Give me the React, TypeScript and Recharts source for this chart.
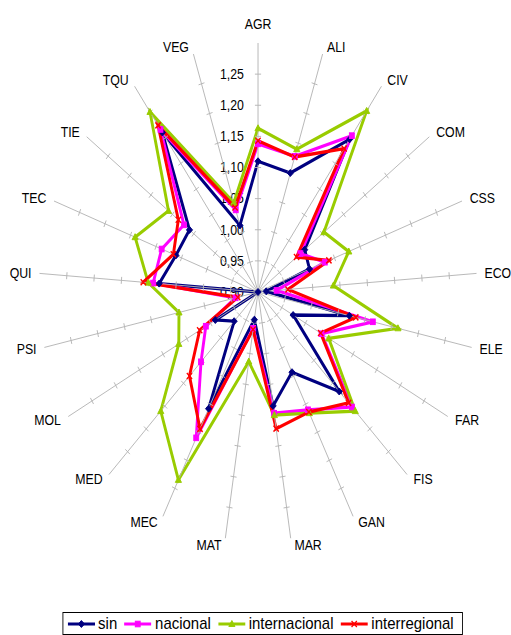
import React from 'react';
import { RadarChart, Radar, PolarAngleAxis, PolarRadiusAxis, Legend } from 'recharts';

const categories = ['AGR', 'ALI', 'CIV', 'COM', 'CSS', 'ECO', 'ELE', 'FAR', 'FIS', 'GAN', 'MAR', 'MAT', 'MEC', 'MED', 'MOL', 'PSI', 'QUI', 'TEC', 'TIE', 'TQU', 'VEG'];
const sin = [1.110, 1.100, 1.197, 1.009, 1.001, 0.915, 1.071, 0.974, 1.118, 1.043, 1.085, 0.945, 1.108, 0.964, 0.990, 0.900, 1.081, 1.061, 1.060, 1.210, 1.012];
const nacional = [1.138, 1.128, 1.204, 0.999, 1.031, 0.934, 1.115, 1.034, 1.152, 1.110, 1.097, 0.959, 1.160, 1.053, 1.010, 0.942, 1.092, 1.089, 1.073, 1.216, 1.038];
const internacional = [1.163, 1.140, 1.252, 1.054, 1.078, 1.038, 1.162, 1.049, 1.161, 1.116, 1.100, 1.013, 1.235, 1.161, 1.067, 1.048, 1.101, 1.141, 1.109, 1.250, 1.050];
const interregional = [1.143, 1.127, 1.179, 0.990, 1.039, 0.955, 1.083, 1.032, 1.143, 1.114, 1.122, 0.961, 1.144, 1.084, 1.023, 0.938, 1.110, 1.066, 1.086, 1.224, 1.042];
const seriesNames = ['sin', 'nacional', 'internacional', 'interregional'];
const seriesColors = ['#000080', '#ff00ff', '#99cc00', '#ff0000'];
const radiusDomain = [0.9, 1.3];
const radiusTickLabels = ['0,90', '0,95', '1,00', '1,05', '1,10', '1,15', '1,20', '1,25'];
const radiusTickValues = [0.9, 0.95, 1.0, 1.05, 1.1, 1.15, 1.2, 1.25];

const seriesValues = [sin, nacional, internacional, interregional];
const data = categories.map((cat, i) => {
  const row: any = { cat };
  seriesNames.forEach((n, k) => { row[n] = seriesValues[k][i]; });
  return row;
});

const FONT = '"Liberation Sans", Arial, sans-serif';
const SX = 0.88;
const W = 581;
const H = 635;
const CX = 293.2;
const CY = 292;
const R = 249;
const GRID = '#b4b4b4';

const toR = (v: number) => ((v - radiusDomain[0]) / (radiusDomain[1] - radiusDomain[0])) * R;

const AngleTick = (props: any) => {
  const { payload } = props;
  const a = (payload.coordinate * Math.PI) / 180;
  const s = Math.cos(a);
  const c = Math.sin(a);
  const ex = CX + R * s;
  const ey = CY - R * c;
  const marks = radiusTickValues.slice(1).map((t, k) => {
    const r = toR(t);
    const px = CX + r * s;
    const py = CY - r * c;
    return (
      <line key={k} x1={px - 3.5 * c} y1={py - 3.5 * s} x2={px + 3.5 * c} y2={py + 3.5 * s} stroke={GRID} strokeWidth={1} />
    );
  });
  let anchor = 'middle';
  let lx = ex;
  let ly = ey - 19;
  if (Math.abs(s) > 0.05) {
    anchor = s > 0 ? 'start' : 'end';
    const gap = (3 + 5 * Math.abs(s)) / SX;
    lx = ex + (s > 0 ? gap : -gap);
    ly = ey - 7 * c;
  }
  return (
    <g>
      <line x1={CX} y1={CY} x2={ex} y2={ey} stroke={GRID} strokeWidth={1} />
      {marks}
      <text x={lx} y={ly} textAnchor={anchor} dominantBaseline="central" fontSize={14} fontFamily={FONT} fill="#000">
        {payload.value}
      </text>
    </g>
  );
};

const RadiusLabels = () => (
  <g>
    {radiusTickValues.map((v, i) => (
      <text key={i} x={CX - 16} y={CY - toR(v)} textAnchor="end" dominantBaseline="central" fontSize={14} fontFamily={FONT} fill="#000">
        {radiusTickLabels[i]}
      </text>
    ))}
  </g>
);

const markerShape = (idx: number, x: number, y: number, color: string, key?: any) => {
  if (idx === 0) {
    return <path key={key} d={`M${x},${y - 3.5}L${x + 3.5},${y}L${x},${y + 3.5}L${x - 3.5},${y}Z`} fill={color} stroke={color} strokeWidth={1} />;
  }
  if (idx === 1) {
    return <rect key={key} x={x - 2.8} y={y - 2.8} width={5.6} height={5.6} fill={color} stroke={color} />;
  }
  if (idx === 2) {
    return <path key={key} d={`M${x},${y - 3.5}L${x + 3.5},${y + 2.5}L${x - 3.5},${y + 2.5}Z`} fill={color} stroke={color} />;
  }
  return (
    <path key={key} d={`M${x - 3},${y - 3}L${x + 3},${y + 3}M${x - 3},${y + 3}L${x + 3},${y - 3}`} stroke={color} strokeWidth={1.5} fill="none" />
  );
};

const makeDot = (idx: number) => (p: any) => {
  if (p == null || p.cx == null || p.cy == null) return <g key={p?.key} />;
  return markerShape(idx, p.cx, p.cy, seriesColors[idx], p.key ?? `${idx}-${p.index}`);
};

const LegendContent = (props: any) => {
  const items = (props.payload || []) as any[];
  const ordered = seriesNames.map((n) => items.find((it: any) => it.value === n) || { value: n });
  return (
    <div
      style={{
        boxSizing: 'border-box',
        border: '1px solid #000',
        display: 'flex',
        alignItems: 'center',
        height: 23,
        paddingLeft: 5,
        fontSize: 17,
        fontFamily: FONT,
        background: '#fff',
        width: 455,
        whiteSpace: 'nowrap',
        color: '#000',
      }}
    >
      {ordered.map((it: any) => {
        const idx = seriesNames.indexOf(it.value);
        const color = seriesColors[idx];
        return (
          <div key={it.value} style={{ display: 'flex', alignItems: 'center', marginRight: 8 }}>
            <svg width={31} height={12} style={{ display: 'block' }}>
              <line x1={0} y1={6} x2={31} y2={6} stroke={color} strokeWidth={3} />
              {markerShape(idx, 15.5, 6, color)}
            </svg>
            <span style={{ marginLeft: 4, lineHeight: '20px' }}>{it.value}</span>
          </div>
        );
      })}
    </div>
  );
};

export default function App() {
  return (
    <div style={{ position: 'absolute', left: 0, top: 0, width: 511, height: 635, overflow: 'hidden', background: '#fff' }}>
      <div style={{ width: W, height: H, transform: `scaleX(${SX})`, transformOrigin: '0 0' }}>
        <RadarChart
          width={W}
          height={H}
          data={data}
          cx={CX}
          cy={CY}
          outerRadius={R}
          margin={{ top: 0, right: 0, bottom: 0, left: 0 }}
        >
          <PolarAngleAxis dataKey="cat" axisLine={false} tickLine={false} tick={<AngleTick />} />
          <PolarRadiusAxis
            angle={90}
            domain={radiusDomain}
            axisLine={false}
            tickLine={false}
            tick={false}
          />
          {seriesNames.map((n, i) => (
            <Radar
              key={n}
              name={n}
              dataKey={n}
              stroke={seriesColors[i]}
              strokeWidth={3.3}
              fill="none"
              fillOpacity={0}
              dot={makeDot(i)}
              isAnimationActive={false}
            />
          ))}
          <RadiusLabels />
          <Legend
            content={<LegendContent />}
            wrapperStyle={{ left: 70.5, top: 612, width: 455, bottom: 'auto' }}
          />
        </RadarChart>
      </div>
    </div>
  );
}
